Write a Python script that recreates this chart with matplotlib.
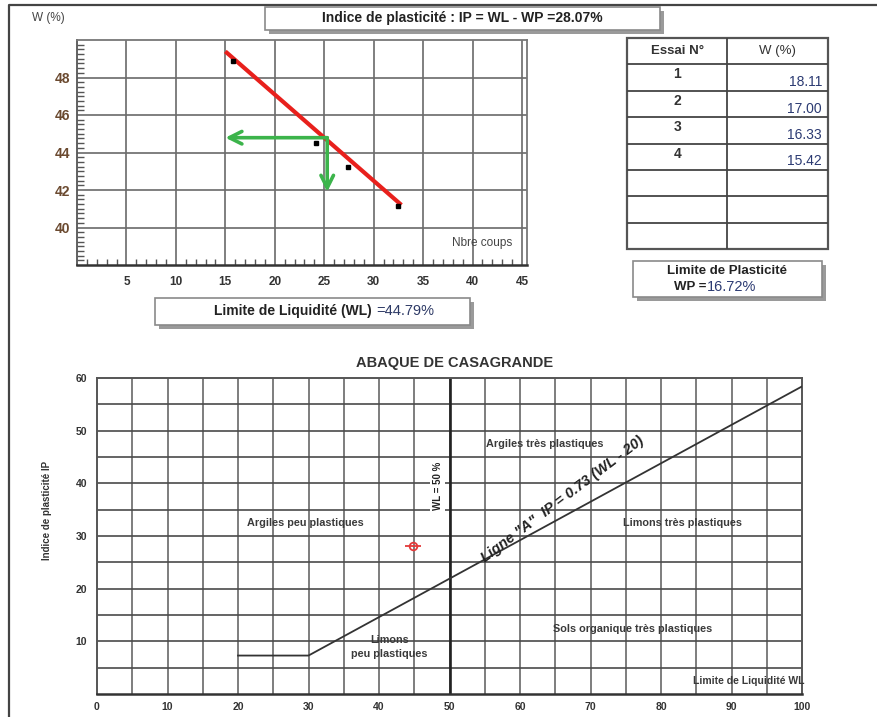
import matplotlib
matplotlib.use("Agg")
import matplotlib.pyplot as plt
import numpy as np
from matplotlib.patches import Rectangle
from matplotlib.lines import Line2D

plt.rcParams['font.family'] = ['Liberation Sans', 'DejaVu Sans']

# ---- Liquid limit test (Casagrande cup) ----
blows = [15.8, 24.2, 27.4, 32.5]          # Nbre coups
water = [48.9, 44.52, 43.24, 41.16]       # W (%)
WL = 44.79                                # water content at 25 blows
fit_slope = -0.46
fit_x = [15.0, 32.8]

# ---- Plastic limit test ----
essai = ["1", "2", "3", "4"]
w_plastic = ["18.11", "17.00", "16.33", "15.42"]
WP = 16.72
IP = WL - WP

# ---- Casagrande chart ----
aline_x = [20, 30, 100]
aline_ip = [0.73 * (30 - 20), 0.73 * (30 - 20), 0.73 * (100 - 20)]
zones = [
    ("Argiles très plastiques", 63.5, 47.5),
    ("Argiles peu plastiques", 29.5, 32.5),
    ("Limons très plastiques", 83.0, 32.5),
    ("Sols organique très plastiques", 76.0, 12.3),
    ("Limons\npeu plastiques", 41.5, 9.0),
]

W, H = 878, 717
fig = plt.figure(figsize=(W / 100, H / 100), dpi=100)


def fx(px):
    return px / W


def fy(py):
    return 1 - py / H


def box(x0, y0, x1, y1, shadow=4):
    fig.add_artist(Rectangle((fx(x0 + shadow), fy(y1 + shadow)), fx(x1 - x0), (y1 - y0) / H,
                             transform=fig.transFigure, facecolor='#9a9a9a',
                             edgecolor='none', zorder=1))
    fig.add_artist(Rectangle((fx(x0), fy(y1)), fx(x1 - x0), (y1 - y0) / H,
                             transform=fig.transFigure, facecolor='white',
                             edgecolor='#8a8a8a', lw=1.2, zorder=2))


# outer frame
fig.add_artist(Line2D([fx(9), fx(9), fx(878)], [fy(717), fy(5), fy(5)],
                      transform=fig.transFigure, color='#444444', lw=1.6))

# ================= top chart =================
ax1 = fig.add_axes([fx(77), fy(265), fx(527 - 77), (265 - 40) / H])
ax1.set_xlim(0, 45.5)
ax1.set_ylim(38, 50)
for x in range(5, 46, 5):
    ax1.axvline(x, color='#6a6a6a', lw=1.2, zorder=1)
for y in range(40, 49, 2):
    ax1.axhline(y, color='#6a6a6a', lw=1.2, zorder=1)
ax1.set_xticks(range(5, 46, 5))
ax1.set_yticks(range(40, 49, 2))
ax1.set_xticks(np.arange(1, 45.5, 1), minor=True)
ax1.set_yticks(np.arange(38.25, 50, 0.25), minor=True)
ax1.tick_params(axis='x', which='major', length=0, pad=8, labelsize=8.5,
                labelcolor='#333333')
ax1.tick_params(axis='y', which='major', length=0, pad=5, labelsize=10,
                labelcolor='#6b4a30')
ax1.tick_params(axis='x', which='minor', direction='in', length=4, width=1,
                color='#555555')
ax1.tick_params(axis='y', which='minor', direction='in', length=5, width=1,
                color='#555555')
for lab in ax1.get_xticklabels() + ax1.get_yticklabels():
    lab.set_fontweight('bold')
for s in ax1.spines.values():
    s.set_color('#777777')
    s.set_linewidth(1.3)
ax1.spines['bottom'].set_color('#333333')
ax1.spines['bottom'].set_linewidth(1.8)
ax1.spines['left'].set_color('#555555')

xl = np.array(fit_x)
ax1.plot(xl, WL + fit_slope * (xl - 25), color='#e8201c', lw=3, zorder=3,
         solid_capstyle='butt')
ax1.plot(blows, water, 's', color='black', ms=3.5, zorder=4)

corner = (25.3, WL)
arrow_kw = dict(arrowstyle='->,head_length=0.9,head_width=0.45', color='#3cb44b',
                lw=2.6, shrinkA=0, shrinkB=0)
ax1.annotate('', xy=(15.0, WL), xytext=corner, arrowprops=arrow_kw, zorder=5)
ax1.annotate('', xy=(25.3, 41.9), xytext=corner, arrowprops=arrow_kw, zorder=5)

ax1.text(41.0, 39.15, "Nbre coups", fontsize=8.5, color='#444444', ha='center',
         va='center', zorder=5)
fig.text(fx(48), fy(18), "W (%)", fontsize=8.5, color='#444444', ha='center',
         va='center')

# title box
box(265, 7, 660, 30)
fig.text(fx(462), fy(18), f"Indice de plasticité : IP = WL - WP ={IP:.2f}%",
         fontsize=10, fontweight='bold', color='#222222', ha='center', va='center',
         zorder=3)

# liquid limit box
box(155, 298, 470, 325)
fig.text(fx(376), fy(311), "Limite de Liquidité (WL) ", fontsize=10,
         fontweight='bold', color='#222222', ha='right', va='center', zorder=3)
fig.text(fx(376), fy(311), f"={WL:.2f}%", fontsize=10.5, color='#2e3a66',
         ha='left', va='center', zorder=3)

# ================= plastic limit table =================
tax = fig.add_axes([fx(627), fy(249), fx(828 - 627), (249 - 38) / H])
tax.set_xlim(0, 2)
tax.set_ylim(8, 0)
tax.axis('off')
for r in range(1, 8):
    tax.plot([0, 2], [r, r], color='#444444', lw=1.3)
tax.plot([1, 1], [0, 8], color='#444444', lw=1.3)
tax.add_patch(Rectangle((0, 0), 2, 8, fill=False, edgecolor='#555555', lw=1.6,
                        clip_on=False))
tax.text(0.5, 0.5, "Essai N°", fontsize=9.5, fontweight='bold', color='#333333',
         ha='center', va='center')
tax.text(1.5, 0.5, "W (%)", fontsize=9.5, color='#333333', ha='center',
         va='center')
for i, (n, w) in enumerate(zip(essai, w_plastic), start=1):
    tax.text(0.5, i + 0.38, n, fontsize=10, fontweight='bold', color='#333333',
             ha='center', va='center')
    tax.text(1.94, i + 0.68, w, fontsize=10, color='#2b3a72', ha='right',
             va='center')

# plastic limit box
box(633, 261, 822, 297)
fig.text(fx(727), fy(271), "Limite de Plasticité", fontsize=9.5, fontweight='bold',
         color='#222222', ha='center', va='center', zorder=3)
fig.text(fx(706), fy(287), "WP =", fontsize=9.5, fontweight='bold',
         color='#222222', ha='right', va='center', zorder=3)
fig.text(fx(707), fy(287), f"{WP:.2f}%", fontsize=10.5, color='#2b3a72',
         ha='left', va='center', zorder=3)

# ================= Casagrande chart =================
ax2 = fig.add_axes([fx(97), fy(694), fx(802 - 97), (694 - 378) / H])
ax2.set_xlim(0, 100)
ax2.set_ylim(0, 60)
for x in range(5, 100, 5):
    ax2.axvline(x, color='#5a5a5a', lw=1.1, zorder=1)
for y in range(5, 60, 5):
    ax2.axhline(y, color='#4a4a4a', lw=1.2, zorder=1)
ax2.axvline(50, color='#222222', lw=1.9, zorder=2)
ax2.set_xticks(range(0, 101, 10))
ax2.set_yticks(range(10, 61, 10))
ax2.tick_params(length=0, labelsize=7.5, labelcolor='#333333')
ax2.tick_params(axis='x', pad=6)
ax2.tick_params(axis='y', pad=7)
for lab in ax2.get_xticklabels() + ax2.get_yticklabels():
    lab.set_fontweight('bold')
for s in ax2.spines.values():
    s.set_color('#555555')
    s.set_linewidth(1.4)
ax2.spines['bottom'].set_color('#333333')
ax2.spines['bottom'].set_linewidth(1.8)

ax2.plot(aline_x, aline_ip, color='#333333', lw=1.3, zorder=3)

# A-line label, set slightly steeper than the line itself
ax2.text(66.0, 37.0, 'Ligne "A"  IP = 0.73 (WL - 20)', rotation=37,
         rotation_mode='anchor', fontsize=10.5, fontweight='bold', style='italic',
         color='#222222', ha='center', va='center', zorder=4)

ax2.text(48.3, 39.5, "WL = 50 %", rotation=90, fontsize=7, fontweight='bold',
         color='#222222', ha='center', va='center', zorder=4,
         bbox=dict(facecolor='white', edgecolor='none', pad=2))

for label, x, y in zones:
    ax2.text(x, y, label, fontsize=7.8, fontweight='bold', color='#3a3a3a',
             ha='center', va='center', zorder=4, linespacing=1.5)

ax2.text(92.5, 2.4, "Limite de Liquidité WL", fontsize=7.5, fontweight='bold',
         color='#3a3a3a', ha='center', va='center', zorder=4)

# sample point
ax2.plot([WL], [IP], 'o', ms=5.5, mfc='none', mec='#e33a3a', mew=1.3, zorder=5)
ax2.plot([WL], [IP], '_', ms=12, mec='#e33a3a', mew=1.3, zorder=5)

fig.text(fx(455), fy(363), "ABAQUE DE CASAGRANDE", fontsize=10.5,
         fontweight='bold', color='#333333', ha='center', va='center')
fig.text(fx(47), fy(510), "Indice de plasticité IP", rotation=90, fontsize=7,
         fontweight='bold', color='#333333', ha='center', va='center')

fig.savefig("out.png", dpi=100, facecolor='white')
